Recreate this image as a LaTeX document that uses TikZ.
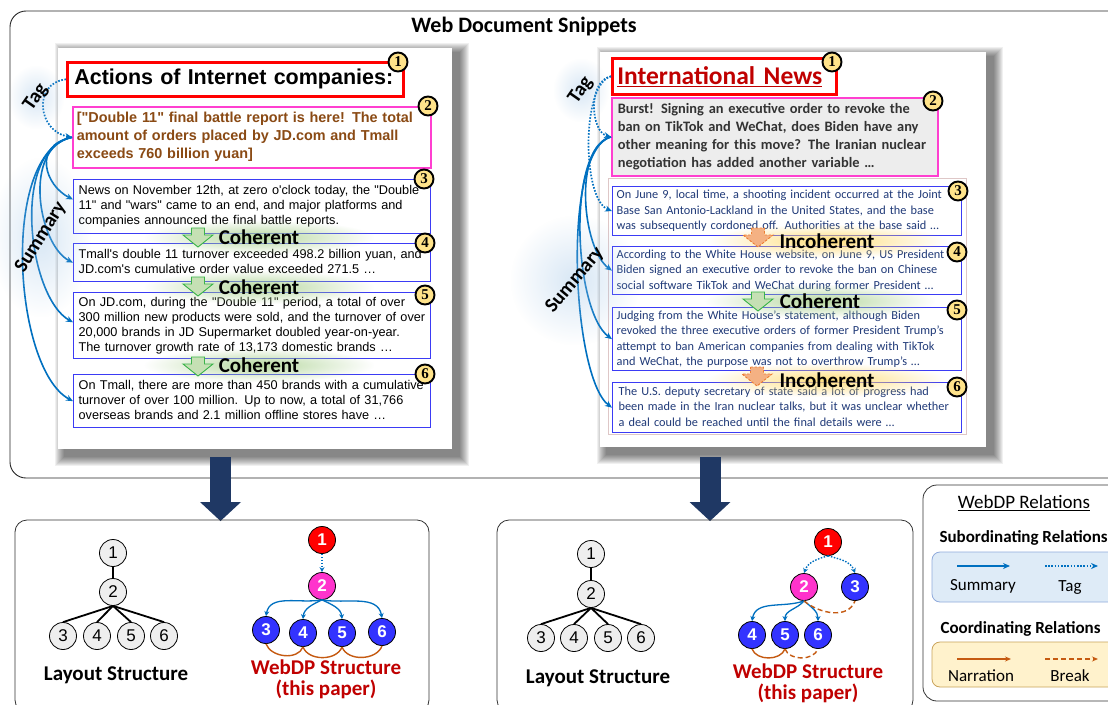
\documentclass[tikz,border=0pt]{standalone}
\usepackage{fontspec}
\setmainfont{Carlito}
\newfontfamily\arialf{Liberation Sans}
\newfontfamily\serifb{Liberation Serif}
\usetikzlibrary{arrows.meta,fadings,calc}

\definecolor{numyellow}{HTML}{FFE38A}
\definecolor{sumblue}{HTML}{0070C0}
\definecolor{boxblue}{HTML}{3B3BF5}
\definecolor{magentab}{HTML}{FF3FD0}
\definecolor{brownt}{HTML}{8A4A14}
\definecolor{navyt}{HTML}{203A78}
\definecolor{navyarrow}{HTML}{1F3864}
\definecolor{darkred}{HTML}{C00000}
\definecolor{orangec}{HTML}{C55A11}
\definecolor{cohfill}{HTML}{C5E0B4}
\definecolor{cohline}{HTML}{3CB44B}
\definecolor{incfill}{HTML}{F4B183}
\definecolor{incline}{HTML}{ED7D31}
\definecolor{glowgreen}{HTML}{A9D18E}
\definecolor{glowyellow}{HTML}{FFD966}
\definecolor{glowblue}{HTML}{9DC3E6}
\definecolor{nodered}{HTML}{FF0000}
\definecolor{nodemag}{HTML}{FF33CC}
\definecolor{nodeblue}{HTML}{3333FF}
\definecolor{layfill}{HTML}{EEEEEE}
\definecolor{legblue}{HTML}{DEEBF7}
\definecolor{legblueline}{HTML}{8FAADC}
\definecolor{legyellow}{HTML}{FFF2CC}
\definecolor{legyellowline}{HTML}{C9A35A}
\definecolor{grayfill}{HTML}{EDEDED}
\definecolor{darkgrayt}{HTML}{333333}

\tikzfading[name=glowfade, inner color=transparent!15, outer color=transparent!100]
\tikzfading[name=softglow, inner color=transparent!60, outer color=transparent!100]

% a block of lines that never re-breaks
\newcommand{\textlines}[1]{\begin{tabular}{@{}l@{}}#1\end{tabular}}

\tikzset{
  pageshadow/.style={black, opacity=0.06},
  lbox/.style={draw=boxblue, line width=1.3pt, anchor=north west, align=left,
    inner xsep=5pt, inner ysep=0pt, text width=347pt,
    font=\arialf\fontsize{12.7}{15}\selectfont, text=black},
  rbox/.style={draw=boxblue, line width=1.3pt, anchor=north west, align=left,
    inner xsep=4pt, inner ysep=0pt, text width=341pt,
    font=\fontsize{12.3}{15.5}\selectfont, text=navyt},
  numc/.style={circle, draw=black, line width=1.9pt, fill=numyellow,
    minimum size=19pt, inner sep=0pt, font=\serifb\bfseries\fontsize{15}{15}\selectfont},
  marktxt/.style={font=\bfseries\fontsize{21}{21}\selectfont, inner sep=1pt},
  glowg/.style={fill=glowgreen, path fading=glowfade},
  glowy/.style={fill=glowyellow, path fading=glowfade},
  glowb/.style={fill=glowblue, path fading=softglow},
  downarr/.pic={\path[pic actions] (-6.5,0) -- (6.5,0) -- (6.5,7) -- (15,7) -- (0,19)
    -- (-15,7) -- (-6.5,7) -- cycle;},
  coh/.style={fill=cohfill, draw=cohline, line width=0.9pt},
  incoh/.style={fill=incfill, draw=incline, line width=0.9pt, dash pattern=on 2.5pt off 1.5pt},
  sumarr/.style={draw=sumblue, line width=1.6pt, -{Stealth[length=7pt, width=6pt]}},
  tagarr/.style={draw=sumblue, line width=1.7pt, dash pattern=on 1.6pt off 1.6pt,
    -{Stealth[length=7pt, width=6pt]}},
  sidelbl/.style={font=\bfseries\fontsize{20}{20}\selectfont, inner sep=1pt},
  lay/.style={circle, draw=black, line width=0.8pt, fill=layfill, minimum size=27pt,
    inner sep=0pt, font=\arialf\fontsize{17}{17}\selectfont},
  layedge/.style={line width=1.8pt},
  wn/.style={circle, draw=black, line width=0.8pt, minimum size=27pt, inner sep=0pt,
    text=white, font=\arialf\bfseries\fontsize{17}{17}\selectfont},
  wsum/.style={draw=sumblue, line width=1.3pt, -{Stealth[length=5pt, width=5pt]}},
  wtag/.style={draw=sumblue, line width=1.4pt, dash pattern=on 1.5pt off 1.5pt,
    -{Stealth[length=5pt, width=5pt]}},
  wnar/.style={draw=orangec, line width=1.4pt},
  wbrk/.style={draw=orangec, line width=1.4pt, dash pattern=on 5pt off 3pt},
  panel/.style={draw=black!80, line width=0.8pt, rounded corners=12pt},
  bigarr/.style={draw=navyarrow, line width=21pt,
    -{Triangle[length=19pt, width=41pt, line width=0pt]}},
  caption/.style={font=\bfseries\fontsize{21}{21}\selectfont},
  redcap/.style={font=\bfseries\fontsize{21}{21}\selectfont, text=darkred, align=center},
  legtxt/.style={font=\fontsize{17}{17}\selectfont},
  leghead/.style={anchor=west, font=\bfseries\fontsize{17}{17}\selectfont},
}

\begin{document}
\begin{tikzpicture}[x=1pt, y=-1pt]
\useasboundingbox (0,0) rectangle (1108,704);
\clip (0,0) rectangle (1108,704);
\fill[white] (0,0) rectangle (1108,704);

% ---------- upper frame with the two web pages ----------
\draw[line width=0.9pt, black!85, rounded corners=16pt] (10,11) rectangle (1130,478);
\node[font=\bfseries\fontsize{22}{22}\selectfont] (title) at (524,27) {Web Document Snippets};

% soft page shadows
\foreach \r in {1,...,10}{
  \fill[pageshadow] (65-\r, 53-\r) rectangle (459+\r, 456+\r);
  \fill[pageshadow] (607-\r, 57-\r) rectangle (993+\r, 454+\r);
}
\fill[white] (58,48) rectangle (452,449);
\fill[white] (600,52) rectangle (986,447);

% ----- left page -----
\node[draw=red, line width=2.6pt, anchor=north west, align=left, text width=322pt,
  inner xsep=7pt, minimum height=34pt,
  font=\arialf\bfseries\fontsize{21.5}{21.5}\selectfont] (l1) at (66,61)
  {Actions of Internet companies:};
\node[draw=magentab, line width=1.6pt, anchor=north west, align=left, text width=350pt,
  inner xsep=4pt, inner ysep=0pt, minimum height=61pt, text=brownt,
  font=\arialf\bfseries\fontsize{14.4}{18}\selectfont] (l2) at (72,106)
  {\textlines{["Double 11" final battle report is here! The total\\
   amount of orders placed by JD.com and Tmall\\
   exceeds 760 billion yuan]}};
\node[lbox, minimum height=54pt] (l3) at (73,179)
  {\textlines{News on November 12th, at zero o'clock today, the "Double\\
   11" and "wars" came to an end, and major platforms and\\
   companies announced the final battle reports.}};
\node[lbox, minimum height=38pt] (l4) at (73,243)
  {\textlines{Tmall's double 11 turnover exceeded 498.2 billion yuan, and\\
   JD.com's cumulative order value exceeded 271.5 …}};
\node[lbox, minimum height=66pt] (l5) at (73,292)
  {\textlines{On JD.com, during the "Double 11" period, a total of over\\
   300 million new products were sold, and the turnover of over\\
   20,000 brands in JD Supermarket doubled year-on-year.\\
   The turnover growth rate of 13,173 domestic brands …}};
\node[lbox, minimum height=53pt] (l6) at (73,374)
  {\textlines{On Tmall, there are more than 450 brands with a cumulative\\
   turnover of over 100 million. Up to now, a total of 31,766\\
   overseas brands and 2.1 million offline stores have …}};

\node[numc] (ln1) at (398,62) {1};
\node[numc] (ln2) at (428,106) {2};
\node[numc] (ln3) at (424,179) {3};
\node[numc] (ln4) at (425,243) {4};
\node[numc] (ln5) at (425,295) {5};
\node[numc] (ln6) at (425,374) {6};

% coherence marks between left paragraphs
\path[glowg] (259,237) ++(-115,-17) rectangle ++(230,34);
\path[glowg] (259,287) ++(-115,-17) rectangle ++(230,34);
\path[glowg] (259,365) ++(-115,-17) rectangle ++(230,34);
\node[marktxt] (cl1) at (259,237) {Coherent};
\node[marktxt] (cl2) at (259,287) {Coherent};
\node[marktxt] (cl3) at (259,365) {Coherent};
\pic[coh] at (198,228) {downarr};
\pic[coh] at (198,277) {downarr};
\pic[coh] at (198,357) {downarr};

% relations on the left page
\draw[tagarr] (l1.west) .. controls +(-34,4) and +(-34,-6) .. (l2.west);
\draw[sumarr] (l2.west) .. controls +(-40,8) and +(-28,-14) .. ($(l3.north west)!0.37!(l3.south west)$);
\draw[sumarr] (l2.west) .. controls +(-50,10) and +(-35,-18) .. (l4.west);
\draw[sumarr] (l2.west) .. controls +(-62,12) and +(-45,-25) .. ($(l5.north west)!0.45!(l5.south west)$);
\draw[sumarr] (l2.west) .. controls +(-72,14) and +(-60,-32) .. (l6.west);
\path[glowb] (36,97) ++(-28,-32) rectangle ++(56,64);
\path[glowb] (41,237) ++(-50,-80) rectangle ++(100,160);
\node[sidelbl, rotate=55] (tagl) at (36,97) {Tag};
\node[sidelbl, rotate=58] (suml) at (41,237) {Summary};

% ----- right page -----
\draw[red!25!gray!35, line width=0.6pt] (608,178) rectangle (966,434);
\node[draw=red, line width=2.6pt, anchor=north west, align=left, text width=214pt,
  inner xsep=5pt, minimum height=36pt, text=darkred,
  font=\bfseries\fontsize{25.5}{25.5}\selectfont] (r1) at (611,57)
  {\underline{International News}};
\node[draw=magentab, fill=grayfill, line width=1.6pt, anchor=north west, align=left,
  text width=314pt, inner xsep=6pt, inner ysep=0pt, minimum height=78pt, text=darkgrayt,
  font=\bfseries\fontsize{14.4}{18}\selectfont] (r2) at (611,97)
  {\textlines{Burst! Signing an executive order to revoke the\\
   ban on TikTok and WeChat, does Biden have any\\
   other meaning for this move? The Iranian nuclear\\
   negotiation has added another variable …}};
\node[rbox, minimum height=49pt] (r3) at (612,186)
  {\textlines{On June 9, local time, a shooting incident occurred at the Joint\\
   Base San Antonio-Lackland in the United States, and the base\\
   was subsequently cordoned off. Authorities at the base said …}};
\node[rbox, minimum height=48pt] (r4) at (612,246)
  {\textlines{According to the White House website, on June 9, US President\\
   Biden signed an executive order to revoke the ban on Chinese\\
   social software TikTok and WeChat during former President …}};
\node[rbox, minimum height=63pt] (r5) at (612,307)
  {\textlines{Judging from the White House’s statement, although Biden\\
   revoked the three executive orders of former President Trump’s\\
   attempt to ban American companies from dealing with TikTok\\
   and WeChat, the purpose was not to overthrow Trump’s …}};
\node[rbox, minimum height=50pt, inner xsep=6pt, text width=337pt] (r6) at (612,382)
  {\textlines{The U.S. deputy secretary of state said a lot of progress had\\
   been made in the Iran nuclear talks, but it was unclear whether\\
   a deal could be reached until the final details were …}};

\node[numc] (rn1) at (832,62) {1};
\node[numc] (rn2) at (933,101) {2};
\node[numc] (rn3) at (958,191) {3};
\node[numc] (rn4) at (957,252) {4};
\node[numc] (rn5) at (957,310) {5};
\node[numc] (rn6) at (957,387) {6};

% coherence marks between right paragraphs
\path[glowy] (827,241) ++(-120,-17) rectangle ++(240,34);
\path[glowg] (820,301) ++(-115,-17) rectangle ++(230,34);
\path[glowy] (827,380) ++(-120,-17) rectangle ++(240,34);
\node[marktxt] (ir1) at (827,241) {Incoherent};
\node[marktxt] (cr1) at (820,301) {Coherent};
\node[marktxt] (ir2) at (827,380) {Incoherent};
\pic[incoh] at (758,228) {downarr};
\pic[coh] at (758,292) {downarr};
\pic[incoh] at (757,367) {downarr};

% relations on the right page
\draw[tagarr] (r1.west) .. controls +(-24,5) and +(-20,-5) .. (r2.west);
\draw[tagarr] (r1.west) .. controls +(-30,8) and +(-30,-12) .. (r3.west);
\draw[sumarr] (r2.west) .. controls +(-38,10) and +(-30,-22) .. (r4.west);
\draw[sumarr] (r2.west) .. controls +(-45,12) and +(-38,-28) .. (r5.west);
\draw[sumarr] (r2.west) .. controls +(-50,14) and +(-40,-30) .. (r6.west);
\path[glowb] (581,90) ++(-28,-32) rectangle ++(56,64);
\path[glowb] (575,280) ++(-65,-65) rectangle ++(130,130);
\node[sidelbl, rotate=55] (tagr) at (581,90) {Tag};
\node[sidelbl, rotate=50] (sumr) at (575,280) {Summary};

% ---------- block arrows down to the structures ----------
\coordinate (dl0) at (220.5,457);
\coordinate (dl1) at (220.5,521);
\coordinate (dr0) at (710,457);
\coordinate (dr1) at (710,521);
\draw[bigarr] (dl0) -- (dl1);
\draw[bigarr] (dr0) -- (dr1);

% ---------- lower left panel ----------
\draw[panel] (15,520) rectangle (429,712);
\node[lay] (a1) at (113,553) {1};
\node[lay] (a2) at (113,592) {2};
\node[lay] (a3) at (63,636) {3};
\node[lay] (a4) at (97,636) {4};
\node[lay] (a5) at (131,636) {5};
\node[lay] (a6) at (164,636) {6};
\draw[layedge] (a1) -- (a2);
\foreach \c in {a3,a4,a5,a6} \draw[layedge] (a2.south) -- (\c.north);
\node[caption] (capa) at (116,675) {Layout Structure};

\node[wn, fill=nodered] (w1) at (322,540) {1};
\node[wn, fill=nodemag] (w2) at (322,586) {2};
\node[wn, fill=nodeblue] (w3) at (266,630) {3};
\node[wn, fill=nodeblue] (w4) at (303,633) {4};
\node[wn, fill=nodeblue] (w5) at (342,633) {5};
\node[wn, fill=nodeblue] (w6) at (382,632) {6};
\draw[wtag] (w1) -- (w2);
\draw[wsum] (w2.south) to[out=190, in=80] (w3.north);
\draw[wsum] (w2.south) to[out=205, in=85] (w4.north);
\draw[wsum] (w2.south) to[out=-25, in=95] (w5.north);
\draw[wsum] (w2.south) to[out=-10, in=100] (w6.north);
\draw[wnar] (w3.south) to[out=-70, in=-110] (w4.south);
\draw[wnar] (w4.south) to[out=-70, in=-110] (w5.south);
\draw[wnar] (w5.south) to[out=-70, in=-110] (w6.south);
\node[redcap] (capw) at (326,679) {WebDP Structure\\(this paper)};

% ---------- lower middle panel ----------
\draw[panel] (497,520) rectangle (913,712);
\node[lay] (b1) at (591,554) {1};
\node[lay] (b2) at (591,594) {2};
\node[lay] (b3) at (541,638) {3};
\node[lay] (b4) at (574,638) {4};
\node[lay] (b5) at (608,638) {5};
\node[lay] (b6) at (641,638) {6};
\draw[layedge] (b1) -- (b2);
\foreach \c in {b3,b4,b5,b6} \draw[layedge] (b2.south) -- (\c.north);
\node[caption] (capb) at (598,678) {Layout Structure};

\node[wn, fill=nodered] (v1) at (828,542) {1};
\node[wn, fill=nodemag] (v2) at (804,587) {2};
\node[wn, fill=nodeblue] (v3) at (855,587) {3};
\node[wn, fill=nodeblue] (v4) at (752,635) {4};
\node[wn, fill=nodeblue] (v5) at (785,635) {5};
\node[wn, fill=nodeblue] (v6) at (818,635) {6};
\draw[wtag] (v1.south) to[out=195, in=70] (v2.north);
\draw[wtag] (v1.south) to[out=-15, in=110] (v3.north);
\draw[wsum] (v2.south) to[out=200, in=80] (v4.north);
\draw[wsum] (v2.south) to[out=230, in=90] (v5.north);
\draw[wsum] (v2.south) to[out=-40, in=90] (v6.north);
\draw[wbrk] (v2.south) to[out=-40, in=-110] (v3.south);
\draw[wnar] (v4.south) to[out=-70, in=-110] (v5.south);
\draw[wbrk] (v5.south) to[out=-70, in=-110] (v6.south);
\node[redcap] (capv) at (808,683) {WebDP Structure\\(this paper)};

% ---------- legend ----------
\draw[panel, rounded corners=14pt] (923,485) rectangle (1135,701);
\node[font=\fontsize{19}{19}\selectfont] (legt) at (1024,503) {\underline{WebDP Relations}};
\node[leghead] (legs) at (936,538) {Subordinating Relations};
\draw[fill=legblue, draw=legblueline, line width=0.8pt, rounded corners=8pt] (932,552) rectangle (1130,602);
\coordinate (ls0) at (957,566); \coordinate (ls1) at (1010,566);
\coordinate (lt0) at (1045,566); \coordinate (lt1) at (1098,566);
\draw[sumarr] (ls0) -- (ls1);
\draw[tagarr] (lt0) -- (lt1);
\node[legtxt] (lsum) at (983,586) {Summary};
\node[legtxt] (ltag) at (1070,587) {Tag};
\node[leghead] (legc) at (937,629) {Coordinating Relations};
\draw[fill=legyellow, draw=legyellowline, line width=0.8pt, rounded corners=8pt] (932,642) rectangle (1130,687);
\coordinate (ln0) at (957,659); \coordinate (ln1) at (1011,659);
\coordinate (lb0) at (1045,659); \coordinate (lb1) at (1098,659);
\draw[wnar, -{Stealth[length=6pt, width=5pt]}] (ln0) -- (ln1);
\draw[wbrk, -{Stealth[length=6pt, width=5pt]}] (lb0) -- (lb1);
\node[legtxt] (lnar) at (981,676) {Narration};
\node[legtxt] (lbrk) at (1070,676) {Break};
\end{tikzpicture}
\end{document}
